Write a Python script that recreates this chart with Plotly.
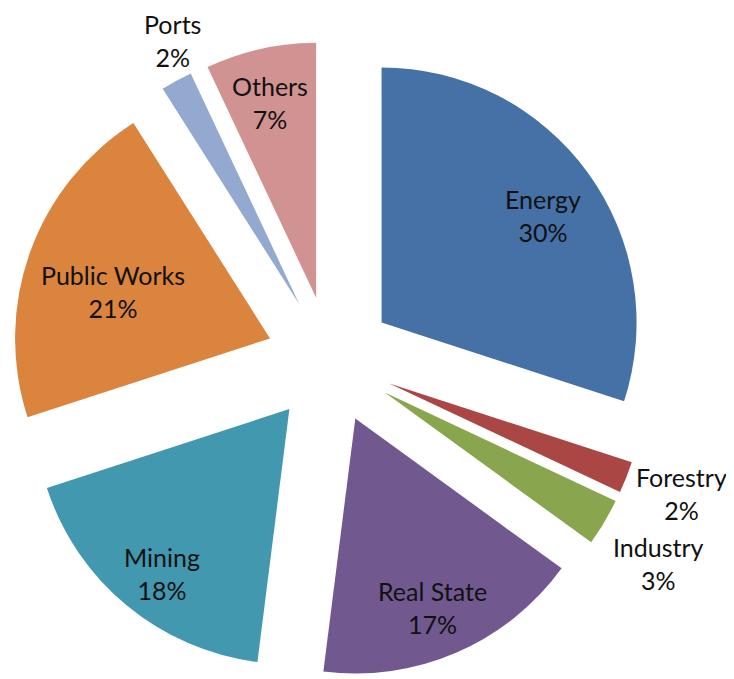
import math
import plotly.graph_objects as go

labels = ["Energy", "Forestry", "Industry", "Real State", "Mining", "Public Works", "Ports", "Others"]
values = [30, 2, 3, 17, 18, 21, 2, 7]
colors = ["#4571A6", "#AA4643", "#89A54E", "#71588F", "#4198AF", "#DB843D", "#93A9CF", "#D19392"]
outside_labels = ["Forestry", "Industry", "Ports"]

W, H = 734, 679
PULL = 0.25
DOM_X = [0.0044, 0.8730]
DOM_Y = [0.0122, 0.9510]
FS = 25
FONT = dict(family="Lato", size=FS, color="#111111")
INSIDE_DY = 10      # label box sits a little low, as in the source chart
OUT_GAP = 8
OUT_SEP = 10

fig = go.Figure(go.Pie(
    labels=labels,
    values=values,
    sort=False,
    direction="clockwise",
    rotation=0,
    pull=PULL,
    marker=dict(colors=colors, line=dict(width=0)),
    textinfo="none",
    domain=dict(x=DOM_X, y=DOM_Y),
    showlegend=False,
    hoverinfo="label+percent",
))

# data labels placed from the pie geometry (figure pixels, y down)
total = sum(values)
wpx = (DOM_X[1] - DOM_X[0]) * W
hpx = (DOM_Y[1] - DOM_Y[0]) * H
r = min(wpx, hpx) / 2 / (1 + PULL)
cx = (DOM_X[0] + DOM_X[1]) / 2 * W
cy = (1 - (DOM_Y[0] + DOM_Y[1]) / 2) * H

placed = []
cum = 0
for lab, v in zip(labels, values):
    mid = (cum + v / 2) / total * 2 * math.pi
    cum += v
    dx, dy = math.sin(mid), -math.cos(mid)
    ax, ay = cx + r * PULL * dx, cy + r * PULL * dy  # pulled apex
    text_lines = [lab, f"{v / total:.0%}"]
    bw = max(len(s) for s in text_lines) * 0.5 * FS
    bh = len(text_lines) * 1.2 * FS
    half = abs(dx) * bw / 2 + abs(dy) * bh / 2
    outside = lab in outside_labels
    if outside:
        ex = ax + (r + OUT_GAP) * dx
        xanchor = "left" if dx > 0.5 else ("right" if dx < -0.5 else "center")
        px = ex
        py = ay + (r + OUT_GAP + half) * dy
        py = max(py, 1.3 * FS)
    else:
        dist = 0.97 * r - half
        px, py = ax + dist * dx, ay + dist * dy + INSIDE_DY
        xanchor = "center"
    placed.append(dict(text="<br>".join(text_lines), x=px, y=py, h=bh,
                       out=outside, side=dx > 0, xanchor=xanchor))

# push apart outside labels on the same side that would overlap
outs = [p for p in placed if p["out"]]
for i in range(len(outs) - 1):
    a, b = outs[i], outs[i + 1]
    if a["side"] == b["side"]:
        need = (a["h"] + b["h"]) / 2 + OUT_SEP
        if abs(b["y"] - a["y"]) < need:
            m = (a["y"] + b["y"]) / 2
            s = 1 if b["y"] >= a["y"] else -1
            a["y"] = m - s * need / 2
            b["y"] = m + s * need / 2

for p in placed:
    fig.add_annotation(
        x=p["x"] / W, y=1 - p["y"] / H, xref="paper", yref="paper",
        text=p["text"], showarrow=False, xanchor=p["xanchor"], yanchor="middle",
        font=FONT, align="center",
    )

fig.update_layout(
    width=W, height=H,
    margin=dict(l=0, r=0, t=0, b=0),
    paper_bgcolor="white",
    plot_bgcolor="white",
    font=FONT,
)

fig.write_html("out.html")
